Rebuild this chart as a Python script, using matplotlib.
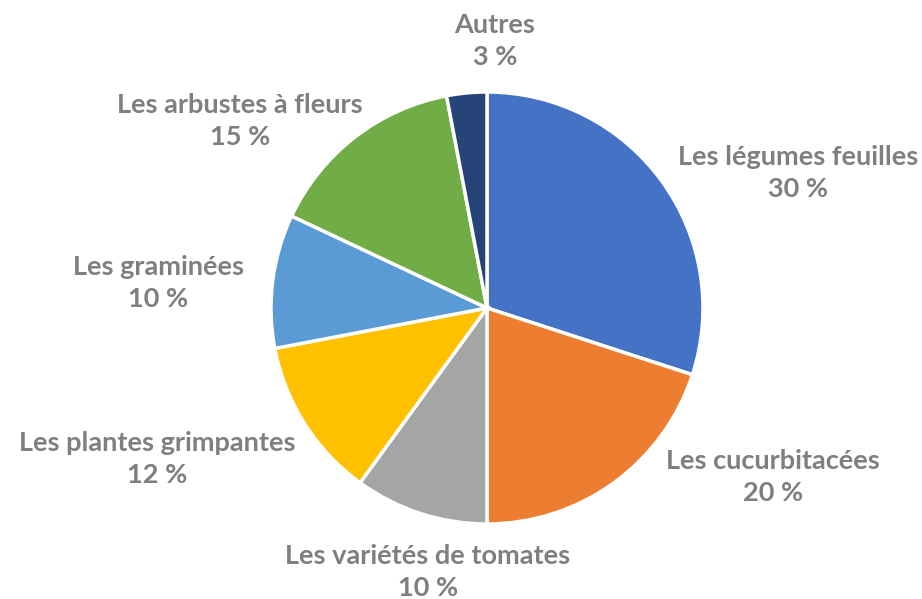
import matplotlib
matplotlib.use("Agg")
import matplotlib.pyplot as plt

# data
categories = ["Les légumes feuilles", "Les cucurbitacées", "Les variétés de tomates",
              "Les plantes grimpantes", "Les graminées", "Les arbustes à fleurs", "Autres"]
values = [30, 20, 10, 12, 10, 15, 3]
colors = ["#4472C4", "#ED7D31", "#A5A5A5", "#FFC000", "#5B9BD5", "#70AD47", "#264478"]

# label centres in pixel coords (x, y from top)
label_pos = [(798, 173), (773, 477), (428, 572), (157, 459), (158, 283), (240, 121), (495, 41)]

W, H = 922, 599
plt.rcParams['font.family'] = ['Lato', 'DejaVu Sans']
fig = plt.figure(figsize=(W / 100, H / 100), dpi=100)
ax = fig.add_axes([0, 0, 1, 1])

cx, cy, r = 487, H - 308, 216
wedges, texts = ax.pie(values, colors=colors, startangle=90, counterclock=False,
                       center=(cx, cy), radius=r, frame=True,
                       labels=[f"{c}\n{v} %" for c, v in zip(categories, values)],
                       wedgeprops=dict(edgecolor='white', linewidth=2.5))
ax.set_xlim(0, W)
ax.set_ylim(0, H)
ax.set_aspect('equal')
ax.axis('off')

for t, (x, y) in zip(texts, label_pos):
    t.set_position((x, H - y))
    t.set_ha('center')
    t.set_va('center')
    t.set_multialignment('center')
    t.set_color('#7F7F7F')
    t.set_fontsize(19.5)
    t.set_fontweight('bold')
    t.set_linespacing(1.4)

fig.savefig("out.png", dpi=100)
